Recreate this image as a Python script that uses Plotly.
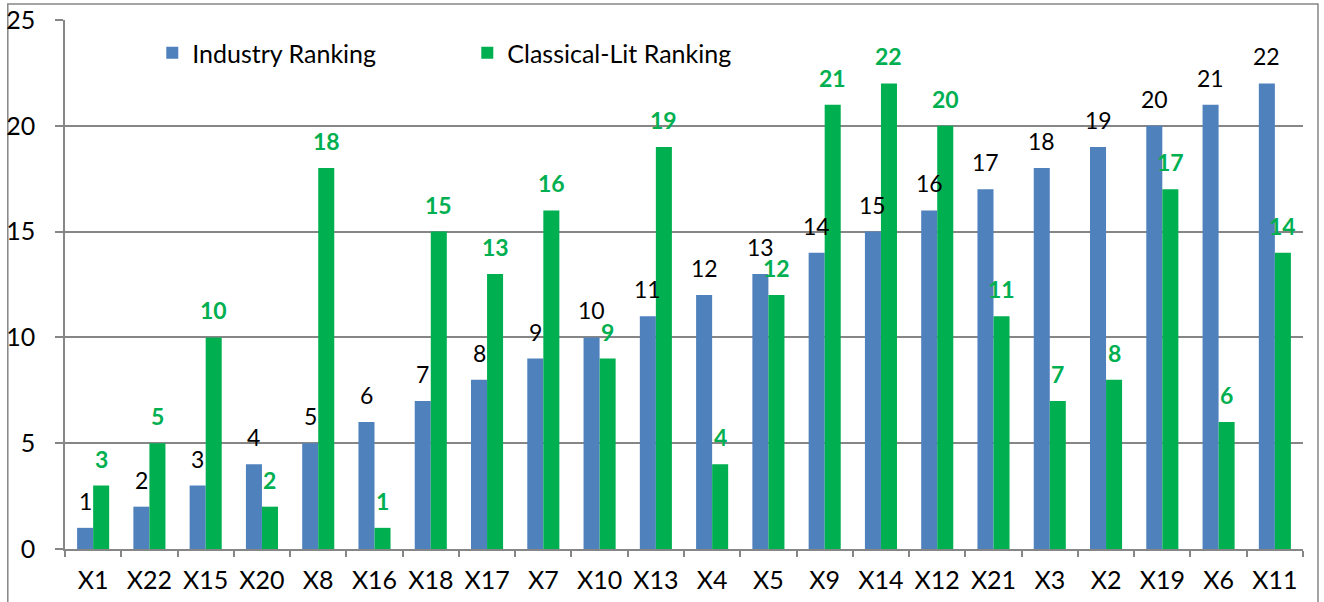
import plotly.graph_objects as go

categories = ["X1", "X22", "X15", "X20", "X8", "X16", "X18", "X17", "X7", "X10", "X13",
              "X4", "X5", "X9", "X14", "X12", "X21", "X3", "X2", "X19", "X6", "X11"]
industry_rank = [1, 2, 3, 4, 5, 6, 7, 8, 9, 10, 11, 12, 13, 14, 15, 16, 17, 18, 19, 20, 21, 22]
classical_rank = [3, 5, 10, 2, 18, 1, 15, 13, 16, 9, 19, 4, 12, 21, 22, 20, 11, 7, 8, 17, 6, 14]
y_ticks = [0, 5, 10, 15, 20, 25]

BLUE = "#4F81BD"
GREEN = "#00B050"
GRID = "#868686"
FONT = "Lato"
FS = 25
LABEL_FS = 23

fig = go.Figure()
fig.add_trace(go.Bar(name="Industry Ranking", x=categories, y=industry_rank,
                     marker=dict(color=BLUE, line=dict(width=0))))
fig.add_trace(go.Bar(name="Classical-Lit Ranking", x=categories, y=classical_rank,
                     marker=dict(color=GREEN, line=dict(width=0))))

# data labels above each bar
half_bar = 8
for cat, v in zip(categories, industry_rank):
  fig.add_annotation(x=cat, y=v, text=str(v), showarrow=False, xshift=-half_bar, yshift=27,
                     yanchor="middle", font=dict(family=FONT, size=LABEL_FS, color="black"))
for cat, v in zip(categories, classical_rank):
  fig.add_annotation(x=cat, y=v, text=f"<b>{v}</b>", showarrow=False, xshift=half_bar, yshift=27,
                     yanchor="middle", font=dict(family=FONT, size=LABEL_FS, color=GREEN))

# chart area border
fig.add_shape(type="rect", xref="paper", yref="paper", x0=-0.0462, x1=1.0121, y0=-0.3, y1=1.0302,
              line=dict(color=GRID, width=1.5), layer="below")

fig.update_xaxes(
  type="category", showline=True, linecolor=GRID, linewidth=1.5, automargin=False,
  ticks="outside", tickson="boundaries", ticklen=6, tickcolor=GRID, tickwidth=1.5,
  tickfont=dict(family=FONT, size=FS, color="black"), ticklabelstandoff=8,
  showgrid=False
)
fig.update_yaxes(
  range=[0, 25], tickvals=y_ticks, showline=True, linecolor=GRID, linewidth=1.5,
  automargin=False,
  ticks="outside", ticklen=8, tickcolor=GRID, tickwidth=1.5,
  showgrid=True, gridcolor=GRID, gridwidth=1.5, zeroline=False,
  tickfont=dict(family=FONT, size=FS, color="black"), ticklabelstandoff=15
)

fig.update_layout(
  width=1324, height=602,
  barmode="group", bargap=0.43, bargroupgap=0,
  plot_bgcolor="white", paper_bgcolor="white",
  margin=dict(l=65, r=21, t=20, b=53),
  font=dict(family=FONT, size=FS, color="black"),
  legend=dict(orientation="h", x=0.0705, y=0.9376, xanchor="left", yanchor="middle",
              entrywidth=270, font=dict(family=FONT, size=FS, color="black"),
              bgcolor="rgba(0,0,0,0)", traceorder="normal"),
)

fig.write_html("out.html", config={"displayModeBar": False},
               post_script="document.body.style.margin='0';")
